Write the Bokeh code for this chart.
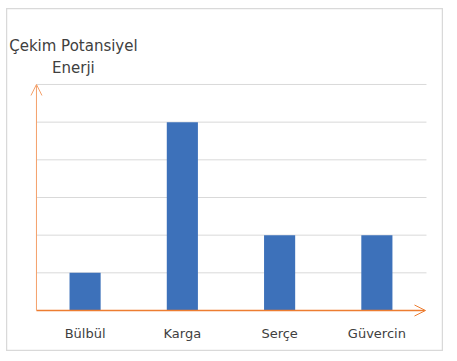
from bokeh.plotting import figure
from bokeh.models import Range1d, Arrow, OpenHead, ColumnDataSource
from bokeh.core.properties import value
from bokeh.embed import file_html
from bokeh.resources import INLINE

categories = ["Bülbül", "Karga", "Serçe", "Güvercin"]
values = [1, 5, 2, 2]
y_ticks = [1, 2, 3, 4, 5, 6]
title_lines = ["Çekim Potansiyel", "Enerji"]

# category slots: slot i spans [i, i+1]; center at i + 0.5
xpos = [i + 0.5 for i in range(len(categories))]
n = len(categories)

W, H = 437, 343
p = figure(width=W, height=H, x_range=Range1d(-0.308, n + 0.185),
           y_range=Range1d(-1.088, 8.017), output_backend="svg", toolbar_location=None,
           min_border=0)
p.styles = {"margin-left": "6px", "margin-top": "8px"}
p.axis.visible = False
p.grid.visible = False
p.outline_line_color = "#d9d9d9"
p.outline_line_width = 1.5

# horizontal gridlines
p.segment(x0=[0] * len(y_ticks), x1=[n + 0.01] * len(y_ticks), y0=y_ticks, y1=y_ticks,
          line_color="#d9d9d9", line_width=1)

bars = ColumnDataSource(dict(x=xpos, top=values, cat=categories))
p.vbar(x="x", top="top", width=0.32, source=bars, color="#3D71BA", line_color=None)

# axes with arrows
p.add_layout(Arrow(end=OpenHead(line_color="#ED7D31", line_width=1, size=11),
                   x_start=0, y_start=0, x_end=n, y_end=0,
                   line_color="#ED7D31", line_width=1.5))
p.add_layout(Arrow(end=OpenHead(line_color="#F4A06A", line_width=1, size=11),
                   x_start=0, y_start=0, x_end=0, y_end=6.0,
                   line_color="#F4A06A", line_width=1))

# category labels
p.text(x="x", y=-0.61, text="cat", source=bars, text_font=value("DejaVu Sans"),
       text_font_size="13px", text_color="#404040", text_align="center",
       text_baseline="middle")

# y title
p.text(x=[0.38, 0.38], y=[7.03, 6.45], text=title_lines, text_font=value("DejaVu Sans"),
       text_font_size="15px", text_color="#404040", text_align="center",
       text_baseline="middle")

open("out.html", "w").write(file_html(p, INLINE))
